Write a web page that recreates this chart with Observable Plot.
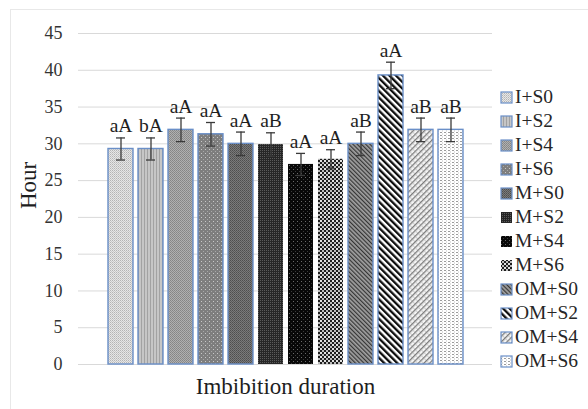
<!DOCTYPE html>
<html>
<head>
<meta charset="utf-8">
<script src="https://cdn.jsdelivr.net/npm/d3@7"></script>
<script src="https://cdn.jsdelivr.net/npm/@observablehq/plot@0.6"></script>
<style>
  html, body { margin: 0; padding: 0; background: #fff; }
  #wrap { position: relative; width: 588px; height: 409px; overflow: hidden; font-family: "Liberation Serif", "Times New Roman", serif; }
  #frame { position: absolute; left: 10px; top: 9px; width: 600px; height: 420px; border: 1px solid #e8e8e8; box-sizing: border-box; pointer-events: none; }
  #legend { position: absolute; left: 500px; top: 85px; }
  .item { height: 24px; display: flex; align-items: center; font-size: 19.5px; color: #262626; white-space: nowrap; }
  .item svg { margin-right: 2px; flex: none; }
</style>
</head>
<body>
<svg width="0" height="0" style="position:absolute">
  <defs>
    <pattern id="p0" width="2" height="2" patternUnits="userSpaceOnUse">
      <rect width="2" height="2" fill="#e6e6e6"/><rect width="1" height="1" fill="#b4b4b4"/><rect x="1" y="1" width="1" height="1" fill="#c8c8c8"/>
    </pattern>
    <pattern id="p1" width="3" height="2" patternUnits="userSpaceOnUse">
      <rect width="3" height="2" fill="#c6c6c6"/><rect width="1" height="2" fill="#a2a2a2"/>
    </pattern>
    <pattern id="p2" width="2" height="2" patternUnits="userSpaceOnUse">
      <rect width="2" height="2" fill="#b0b0b0"/><rect width="1" height="1" fill="#858585"/><rect x="1" y="1" width="1" height="1" fill="#8c8c8c"/>
    </pattern>
    <pattern id="p3" width="4" height="4" patternUnits="userSpaceOnUse">
      <rect width="4" height="4" fill="#7e7e7e"/><rect x="1" y="1" width="1" height="1" fill="#c8c8c8"/><rect x="3" y="3" width="1" height="1" fill="#a8a8a8"/>
    </pattern>
    <pattern id="p4" width="2" height="2" patternUnits="userSpaceOnUse">
      <rect width="2" height="2" fill="#7a7a7a"/><rect width="1" height="1" fill="#4e4e4e"/><rect x="1" y="1" width="1" height="1" fill="#5a5a5a"/>
    </pattern>
    <pattern id="p5" width="2" height="2" patternUnits="userSpaceOnUse">
      <rect width="2" height="2" fill="#262626"/><rect width="1" height="1" fill="#5a5a5a"/>
    </pattern>
    <pattern id="p6" width="4" height="4" patternUnits="userSpaceOnUse">
      <rect width="4" height="4" fill="#080808"/><rect x="1" y="1" width="1" height="1" fill="#6a6a6a"/><rect x="3" y="3" width="1" height="1" fill="#3a3a3a"/>
    </pattern>
    <pattern id="p7" width="4" height="4" patternUnits="userSpaceOnUse">
      <rect width="4" height="4" fill="#1e1e1e"/><rect width="2" height="2" fill="#e2e2e2"/><rect x="2" y="2" width="2" height="2" fill="#bcbcbc"/>
    </pattern>
    <pattern id="p8" width="3" height="3" patternUnits="userSpaceOnUse" patternTransform="rotate(-45)">
      <rect width="3" height="3" fill="#a0a0a0"/><rect width="1.2" height="3" fill="#353535"/>
    </pattern>
    <pattern id="p9" width="4.6" height="4" patternUnits="userSpaceOnUse" patternTransform="rotate(-45)">
      <rect width="4.6" height="4" fill="#ffffff"/><rect width="2.3" height="4" fill="#0c0c0c"/>
    </pattern>
    <pattern id="p10" width="4" height="4" patternUnits="userSpaceOnUse" patternTransform="rotate(45)">
      <rect width="4" height="4" fill="#f4f4f4"/><rect width="1.3" height="4" fill="#7c7c7c"/><rect x="1.3" y="1" width="2.7" height="0.8" fill="#c4c4c4"/>
    </pattern>
    <pattern id="p11" width="4" height="3" patternUnits="userSpaceOnUse">
      <rect width="4" height="3" fill="#ffffff"/><rect x="0" y="0" width="2" height="1" fill="#9c9c9c"/><rect x="2" y="1.5" width="1" height="1" fill="#c0c0c0"/>
    </pattern>
  </defs>
</svg>
<div id="wrap">
  <div id="chart"></div>
  <div id="frame"></div>
  <div id="legend"></div>
</div>
<script>
// ---- data ----
const treatments = ["I+S0", "I+S2", "I+S4", "I+S6", "M+S0", "M+S2", "M+S4", "M+S6", "OM+S0", "OM+S2", "OM+S4", "OM+S6"];
const hours      = [29.3, 29.3, 31.9, 31.3, 30.0, 29.9, 27.2, 27.9, 30.0, 39.3, 31.9, 31.9];
const errors     = [1.5, 1.5, 1.6, 1.6, 1.6, 1.6, 1.5, 1.3, 1.6, 1.8, 1.6, 1.6];
const letters    = ["aA", "bA", "aA", "aA", "aA", "aB", "aA", "aA", "aB", "aA", "aB", "aB"];
const yTicks     = [0, 5, 10, 15, 20, 25, 30, 35, 40, 45];
const categoryLabel = "Imbibition duration";
const yLabel = "Hour";

// ---- styles ----
const patterns = treatments.map((_, i) => `url(#p${i})`);
const outlined = [true, true, true, true, true, false, false, false, true, true, true, true];
const edge = "#6a8fc8";

const rows = treatments.map((t, i) => ({
  t, v: hours[i], e: errors[i], lo: hours[i] - errors[i], hi: hours[i] + errors[i],
  lab: letters[i], fill: patterns[i], stroke: outlined[i] ? edge : "none"
}));

const chart = Plot.plot({
  width: 588,
  height: 409,
  marginLeft: 78,
  marginRight: 96,
  marginTop: 33,
  marginBottom: 45,
  style: {fontFamily: "'Liberation Serif', 'Times New Roman', serif", fontSize: "18px", color: "#333333", background: "transparent"},
  x: {domain: treatments, paddingInner: 0.183, paddingOuter: 0.86, align: 0.5, axis: null},
  y: {domain: [0, 45], ticks: yTicks, tickSize: 0, tickPadding: 16, label: null, tickFormat: d => String(d)},
  color: {type: "identity"},
  marks: [
    Plot.ruleY(yTicks, {stroke: "#d9d9d9", strokeWidth: 1}),
    Plot.barY(rows, {x: "t", y: "v", fill: "fill", stroke: "stroke", strokeWidth: 1.4}),
    Plot.ruleX(rows, {x: "t", y1: "lo", y2: "hi", stroke: "#3a3a3a", strokeWidth: 1.3}),
    Plot.tickY(rows, {x: "t", y: "lo", stroke: "#3a3a3a", strokeWidth: 1.3, insetLeft: 8, insetRight: 8}),
    Plot.tickY(rows, {x: "t", y: "hi", stroke: "#3a3a3a", strokeWidth: 1.3, insetLeft: 8, insetRight: 8}),
    Plot.text(rows, {x: "t", y: "hi", text: "lab", lineAnchor: "bottom", dy: -5.5, fontSize: 19.5, fill: "#1e1e1e"}),
    Plot.text([categoryLabel], {text: d => d, frameAnchor: "bottom", dy: 29, fontSize: 23, fill: "#1e1e1e"}),
    Plot.text([yLabel], {text: d => d, frameAnchor: "left", rotate: -90, dx: -49.5, dy: 10, fontSize: 23, fill: "#1e1e1e"})
  ]
});
document.getElementById("chart").appendChild(chart);

// ---- legend ----
const legend = d3.select("#legend");
treatments.forEach((t, i) => {
  const item = legend.append("div").attr("class", "item");
  const sw = item.append("svg").attr("width", 13).attr("height", 13);
  sw.append("rect").attr("x", 1).attr("y", 1).attr("width", 11).attr("height", 11)
    .attr("fill", patterns[i]).attr("stroke", outlined[i] ? edge : "none").attr("stroke-width", 1.2);
  item.append("span").text(t);
});
</script>
</body>
</html>
